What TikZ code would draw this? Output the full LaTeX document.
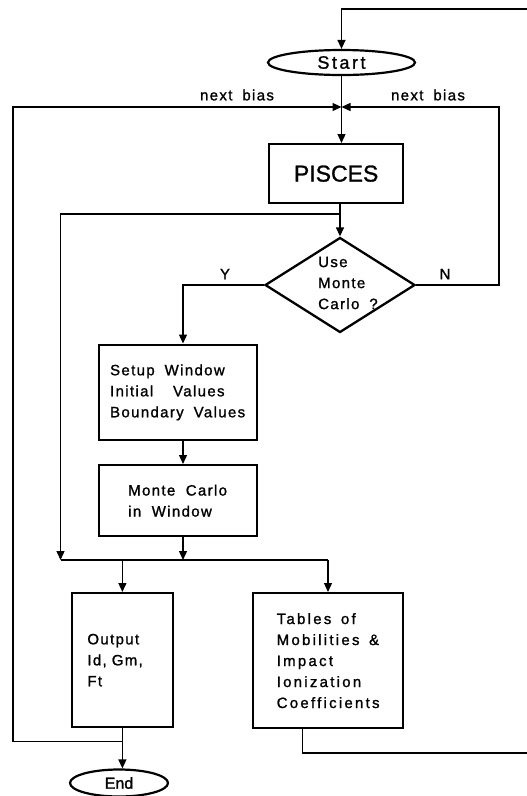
\documentclass[tikz,border=0pt]{standalone}
\usepackage{fontspec}
\setmainfont{Liberation Sans}
\newfontfamily\ffA[LetterSpace=9,WordSpace=1.8,FakeBold=1.2]{Liberation Sans}
\newfontfamily\ffT[LetterSpace=15,WordSpace=1.5,FakeBold=1.2]{Liberation Sans}
\newfontfamily\ffS[LetterSpace=14,FakeBold=1.2]{Liberation Sans}
\newfontfamily\ffP[FakeBold=1.2]{Liberation Sans}
\usetikzlibrary{arrows.meta,shapes.geometric}
\begin{document}
\begin{tikzpicture}[x=1pt,y=-1pt,
  box/.style={draw,line width=2.3pt,inner sep=0pt,anchor=north west},
  oval/.style={draw,ellipse,line width=2.2pt,inner sep=0pt},
  txt/.style={font=\ffA\fontsize{15}{21}\selectfont,align=left},
  ttxt/.style={font=\ffT\fontsize{15}{21}\selectfont,align=left},
  arr/.style={-{Triangle[length=9pt,width=8pt]},line width=1.3pt},
  conn/.style={line width=1.3pt}]
\useasboundingbox (0,0) rectangle (527,796);
\fill[white] (0,0) rectangle (527,796);

% nodes
\node[oval,minimum width=147pt,minimum height=25pt,font=\ffS\fontsize{18}{20}\selectfont] (start) at (341.5,62.5) {Start};
\node[box,minimum width=134pt,minimum height=59pt,font=\ffP\fontsize{23}{26}\selectfont] (pisces) at (268,143) {PISCES};
\node[draw,diamond,line width=2.3pt,inner sep=0pt,minimum width=150pt,minimum height=95pt] (dec) at (340,285) {};
\node[txt,anchor=west,inner sep=0pt] (dectext) at (318,283) {Use\\Monte\\Carlo\ ?};
\node[box,txt,minimum width=158pt,minimum height=95.5pt] (setup) at (97.5,343.5) {Setup Window\\Initial\ \ Values\\Boundary Values};
\node[box,txt,minimum width=158pt,minimum height=71pt] (monte) at (97.5,464) {Monte\hspace{0.7em}Carlo\\in\hspace{0.7em}Window};
\node[box,txt,minimum width=100.5pt,minimum height=134pt,text width=70pt] (out) at (71,592) {Output\\Id, Gm,\\Ft\\[6pt]};
\node[box,ttxt,minimum width=150pt,minimum height=135pt] (tab) at (252,592) {Tables of\\Mobilities \&\\Impact\\Ionization\\Coefficients};
\node[oval,minimum width=98pt,minimum height=27pt,font=\ffP\fontsize{16}{18}\selectfont] (endn) at (119,783) {End};

% labels
\node[txt] (nbL) at (237,95) {next bias};
\node[txt] (nbR) at (428,95) {next bias};
\node[txt] (ylab) at (225,274) {Y};
\node[txt] (nlab) at (445,274) {N};

% coordinates
\coordinate (topR) at (527,9);
\coordinate (jn) at (341.5,107);
\coordinate (lt) at (13,107);
\coordinate (lb) at (13,741.5);
\coordinate (rt) at (499,107);
\coordinate (br1) at (340,214);
\coordinate (br2) at (60.5,214);
\coordinate (hl) at (60.5,560);
\coordinate (ycol) at (183,285);
\coordinate (hm) at (183,560);
\coordinate (hr) at (328,560);
\coordinate (tb) at (302.5,753);
\coordinate (tR) at (527,753);

% connectors
\draw[arr] (topR) -| (start.north);
\draw[arr] (start.south) -- (start.south |- pisces.north);
\draw[arr] (lb -| out.south) -- (lb) -- (lt) -- (jn);
\draw[arr] (dec.east) -| (rt) -- (jn);
\draw[arr] (pisces.south -| dec.north) -- (dec.north);
\draw[arr] (br1) -- (br2) -- (hl);
\draw[arr] (dec.west) -- (ycol) -- (ycol |- setup.north);
\draw[arr] (ycol |- setup.south) -- (ycol |- monte.north);
\draw[arr] (ycol |- monte.south) -- (hm);
\draw[conn] (hl) -- (hr);
\draw[arr] (hl -| out.north) -- (out.north);
\draw[arr] (hr) -- (hr |- tab.north);
\draw[arr] (out.south) -- (out.south |- endn.north);
\draw[conn] (tb |- tab.south) -- (tb) -- (tR);
\end{tikzpicture}
\end{document}
